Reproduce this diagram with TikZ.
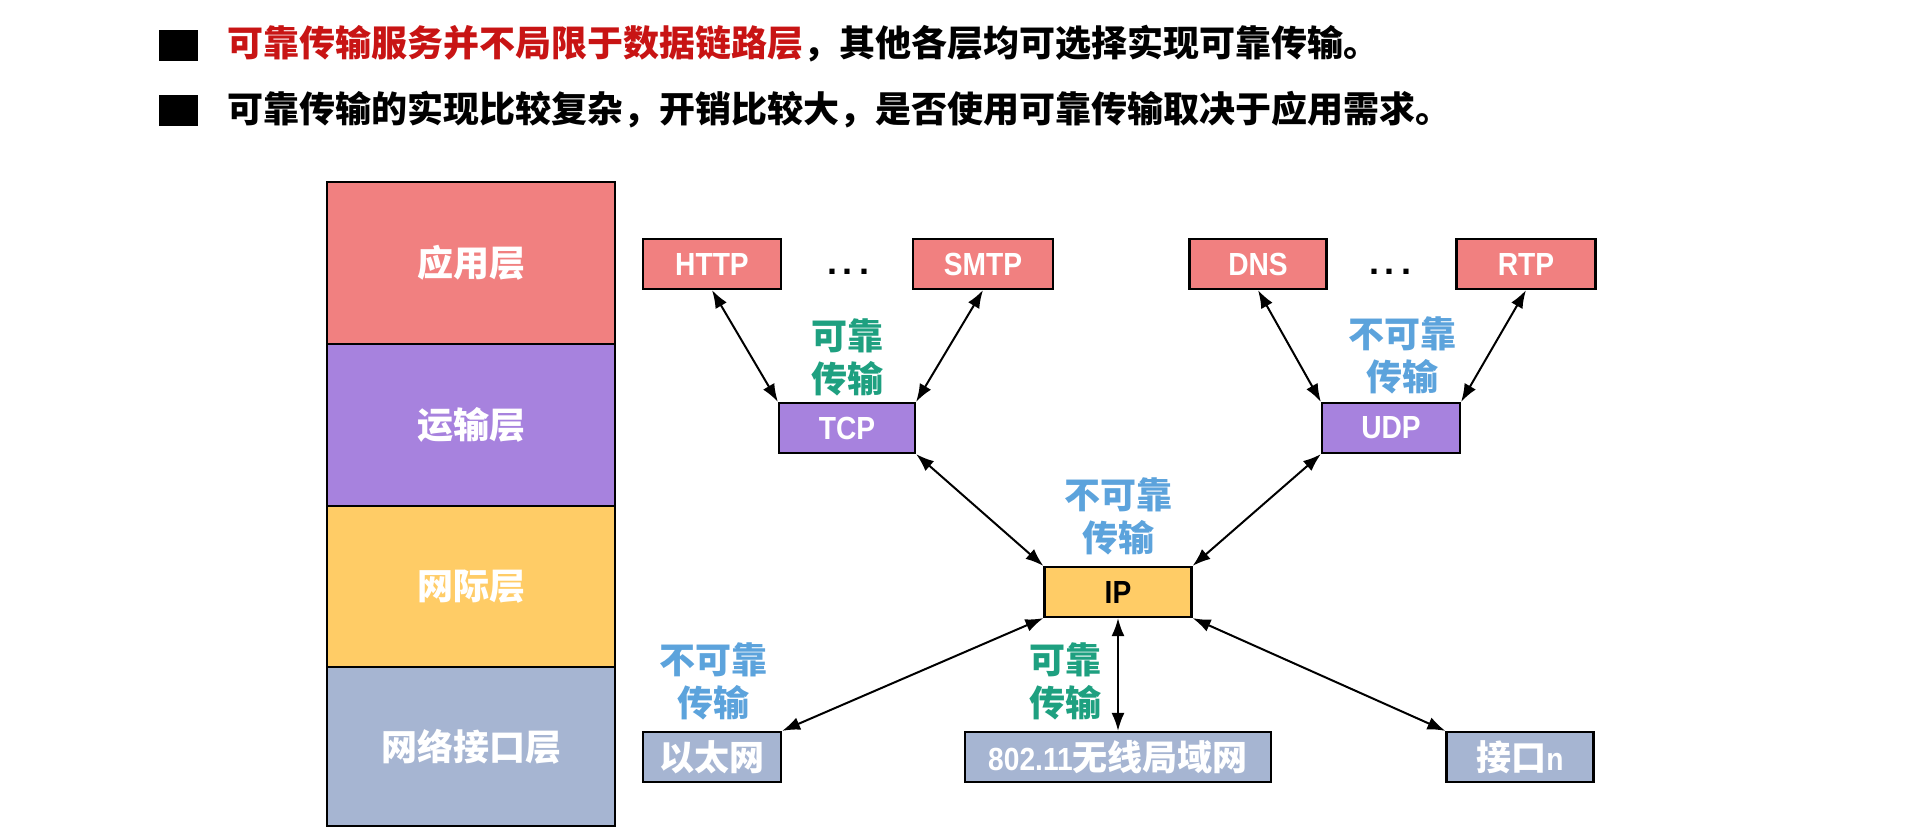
\documentclass[tikz,border=0pt]{standalone}
\usepackage{fontspec}
\usepackage{graphicx}
\setmainfont{Liberation Sans}
\newfontfamily\cjk{Noto Sans CJK SC}
\newcommand{\nar}[1]{\scalebox{0.88}[1]{#1}}
\usetikzlibrary{arrows.meta}
\definecolor{appc}{RGB}{241,128,128}
\definecolor{trc}{RGB}{167,130,222}
\definecolor{netc}{RGB}{255,204,102}
\definecolor{linkc}{RGB}{166,181,210}
\definecolor{grn}{RGB}{30,160,128}
\definecolor{blu}{RGB}{92,163,220}
\definecolor{hred}{RGB}{200,20,20}
\begin{document}
\begin{tikzpicture}[x=1pt,y=-1pt,
  layer/.style={draw=black,line width=1.6pt,minimum width=288pt,inner sep=0pt,text=white,font=\cjk\bfseries\fontsize{36}{40}\selectfont},
  box/.style={draw=black,line width=2.2pt,minimum height=50pt,inner sep=0pt,text=white,font=\bfseries\fontsize{32}{34}\selectfont},
  bcjk/.style={font=\cjk\bfseries\fontsize{35}{38}\selectfont},
  lab/.style={align=center,inner sep=0pt,font=\cjk\bfseries\fontsize{36}{43}\selectfont},
  conn/.style={line width=2pt,{Latex[length=18pt,width=13pt]}-{Latex[length=18pt,width=13pt]}},
  bullet/.style={fill=black,minimum width=39pt,minimum height=31pt,inner sep=0pt},
  head/.style={anchor=west,inner sep=0pt,font=\cjk\bfseries\fontsize{36}{40}\selectfont}
]
\useasboundingbox (0,0) rectangle (1920,834);
\fill[white] (0,0) rectangle (1920,834);

% header
\node[bullet] (b1) at (178.5,46) {};
\node[bullet] (b2) at (178.5,110.5) {};
\node[head] (h1) at (227,44) {\textcolor{hred}{可靠传输服务并不局限于数据链路层}，其他各层均可选择实现可靠传输。};
\node[head] (h2) at (227,110) {可靠传输的实现比较复杂，开销比较大，是否使用可靠传输取决于应用需求。};

% layer column
\node[layer,fill=appc,minimum height=162pt] (la) at (471,263) {应用层};
\node[layer,fill=trc,minimum height=162pt] (lt) at (471,425) {运输层};
\node[layer,fill=netc,minimum height=161pt] (ln) at (471,586.5) {网际层};
\node[layer,fill=linkc,minimum height=159pt] (ll) at (471,746.5) {网络接口层};

% application boxes
\node[box,fill=appc,minimum width=138pt] (http) at (712,264) {\nar{HTTP}};
\node[box,fill=appc,minimum width=140pt] (smtp) at (983,264) {\nar{SMTP}};
\node[box,fill=appc,minimum width=137pt] (dns) at (1258,264) {\nar{DNS}};
\node[box,fill=appc,minimum width=139pt] (rtp) at (1526,264) {\nar{RTP}};
\node[inner sep=0pt,font=\bfseries\fontsize{36}{40}\selectfont] (d1) at (848,272) {.\hspace{6pt}.\hspace{6pt}.};
\node[inner sep=0pt,font=\bfseries\fontsize{36}{40}\selectfont] (d2) at (1390,272) {.\hspace{6pt}.\hspace{6pt}.};

% transport
\node[box,fill=trc,minimum width=136pt] (tcp) at (847,428) {\nar{TCP}};
\node[box,fill=trc,minimum width=138pt] (udp) at (1391,428) {\nar{UDP}};

% internet
\node[box,fill=netc,minimum width=147pt,text=black] (ip) at (1118,592) {\nar{IP}};

% link
\node[box,fill=linkc,minimum width=138pt,bcjk] (eth) at (712,757) {以太网};
\node[box,fill=linkc,minimum width=306pt] (wlan) at (1118,757) {\nar{802.11}{\cjk\bfseries\fontsize{35}{38}\selectfont 无线局域网}};
\node[box,fill=linkc,minimum width=147pt] (ifn) at (1520,757) {{\cjk\bfseries\fontsize{35}{38}\selectfont 接口}\nar{n}};

% labels
\node[lab,text=grn] (l1) at (847,357) {可靠\\传输};
\node[lab,text=blu] (l2) at (1402,355) {不可靠\\传输};
\node[lab,text=blu] (l3) at (1118,516) {不可靠\\传输};
\node[lab,text=blu] (l4) at (713,681) {不可靠\\传输};
\node[lab,text=grn] (l5) at (1065,681) {可靠\\传输};

% connectors
\draw[conn] (http.south) -- (tcp.north west);
\draw[conn] (smtp.south) -- (tcp.north east);
\draw[conn] (dns.south) -- (udp.north west);
\draw[conn] (rtp.south) -- (udp.north east);
\draw[conn] (tcp.south east) -- (ip.north west);
\draw[conn] (udp.south west) -- (ip.north east);
\draw[conn] (ip.south west) -- (eth.north east);
\draw[conn] (ip.south) -- (wlan.north);
\draw[conn] (ip.south east) -- (ifn.north west);
\end{tikzpicture}
\end{document}
